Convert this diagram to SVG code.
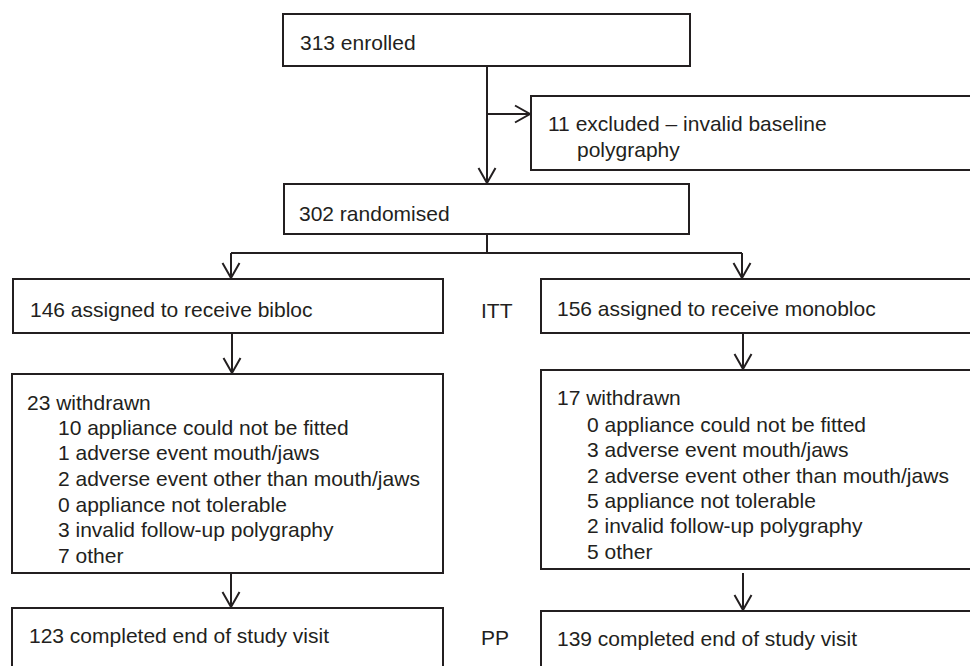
<svg xmlns="http://www.w3.org/2000/svg" width="970" height="666" viewBox="0 0 970 666">
<style>
.box{fill:#fff;stroke:#231f20;stroke-width:2}
.ln{fill:none;stroke:#231f20;stroke-width:2}
text{font-family:"Liberation Sans",Arial,sans-serif;font-size:21px;fill:#231f20}
</style>
<defs>
<marker id="arr" markerUnits="userSpaceOnUse" markerWidth="20" markerHeight="20" viewBox="-17 -10 20 20" refX="0" refY="0" orient="auto">
<path d="M-15,-8.5 L0,0 L-15,8.5" fill="none" stroke="#231f20" stroke-width="2"/>
</marker>
</defs>
<rect width="970" height="666" fill="#fff"/>
<g id="connectors">
<line class="ln" x1="487" y1="67" x2="487" y2="183" marker-end="url(#arr)"/>
<line class="ln" x1="487" y1="114" x2="530" y2="114" marker-end="url(#arr)"/>
<polyline class="ln" points="487,234 487,253"/>
<polyline class="ln" points="231,253 742,253"/>
<line class="ln" x1="231" y1="253" x2="231" y2="278" marker-end="url(#arr)"/>
<line class="ln" x1="742" y1="253" x2="742" y2="278" marker-end="url(#arr)"/>
<line class="ln" x1="232" y1="333" x2="232" y2="373" marker-end="url(#arr)"/>
<line class="ln" x1="743" y1="333" x2="743" y2="369" marker-end="url(#arr)"/>
<line class="ln" x1="231" y1="573" x2="231" y2="607" marker-end="url(#arr)"/>
<line class="ln" x1="743" y1="573" x2="743" y2="610" marker-end="url(#arr)"/>
</g>
<g id="enrolled">
<rect class="box" x="283" y="14" width="407" height="52"/>
<text x="300" y="50">313 enrolled</text>
</g>
<g id="excluded">
<rect class="box" x="531" y="96" width="445" height="74"/>
<text x="548" y="131">11 excluded – invalid baseline</text>
<text x="577" y="157">polygraphy</text>
</g>
<g id="randomised">
<rect class="box" x="284" y="184" width="405" height="50"/>
<text x="299" y="221">302 randomised</text>
</g>
<g id="bibloc">
<rect class="box" x="13" y="279" width="430" height="54"/>
<text x="30" y="317">146 assigned to receive bibloc</text>
</g>
<g id="monobloc">
<rect class="box" x="541" y="279" width="435" height="54"/>
<text x="557" y="316">156 assigned to receive monobloc</text>
</g>
<g id="itt">
<text x="481" y="318">ITT</text>
</g>
<g id="withdrawn-bibloc">
<rect class="box" x="12" y="374" width="431" height="199"/>
<text x="27" y="410">23 withdrawn</text>
<text x="58" y="435">10 appliance could not be fitted</text>
<text x="58" y="460">1 adverse event mouth/jaws</text>
<text x="58" y="486">2 adverse event other than mouth/jaws</text>
<text x="58" y="512">0 appliance not tolerable</text>
<text x="58" y="537">3 invalid follow-up polygraphy</text>
<text x="58" y="563">7 other</text>
</g>
<g id="withdrawn-monobloc">
<rect class="box" x="541" y="370" width="435" height="199"/>
<text x="557" y="405">17 withdrawn</text>
<text x="587" y="432">0 appliance could not be fitted</text>
<text x="587" y="457">3 adverse event mouth/jaws</text>
<text x="587" y="483">2 adverse event other than mouth/jaws</text>
<text x="587" y="508">5 appliance not tolerable</text>
<text x="587" y="533">2 invalid follow-up polygraphy</text>
<text x="587" y="559">5 other</text>
</g>
<g id="completed-bibloc">
<rect class="box" x="12" y="608" width="431" height="70"/>
<text x="29" y="643">123 completed end of study visit</text>
</g>
<g id="completed-monobloc">
<rect class="box" x="541" y="611" width="435" height="70"/>
<text x="557" y="646">139 completed end of study visit</text>
</g>
<g id="pp">
<text x="481" y="645">PP</text>
</g>
</svg>
